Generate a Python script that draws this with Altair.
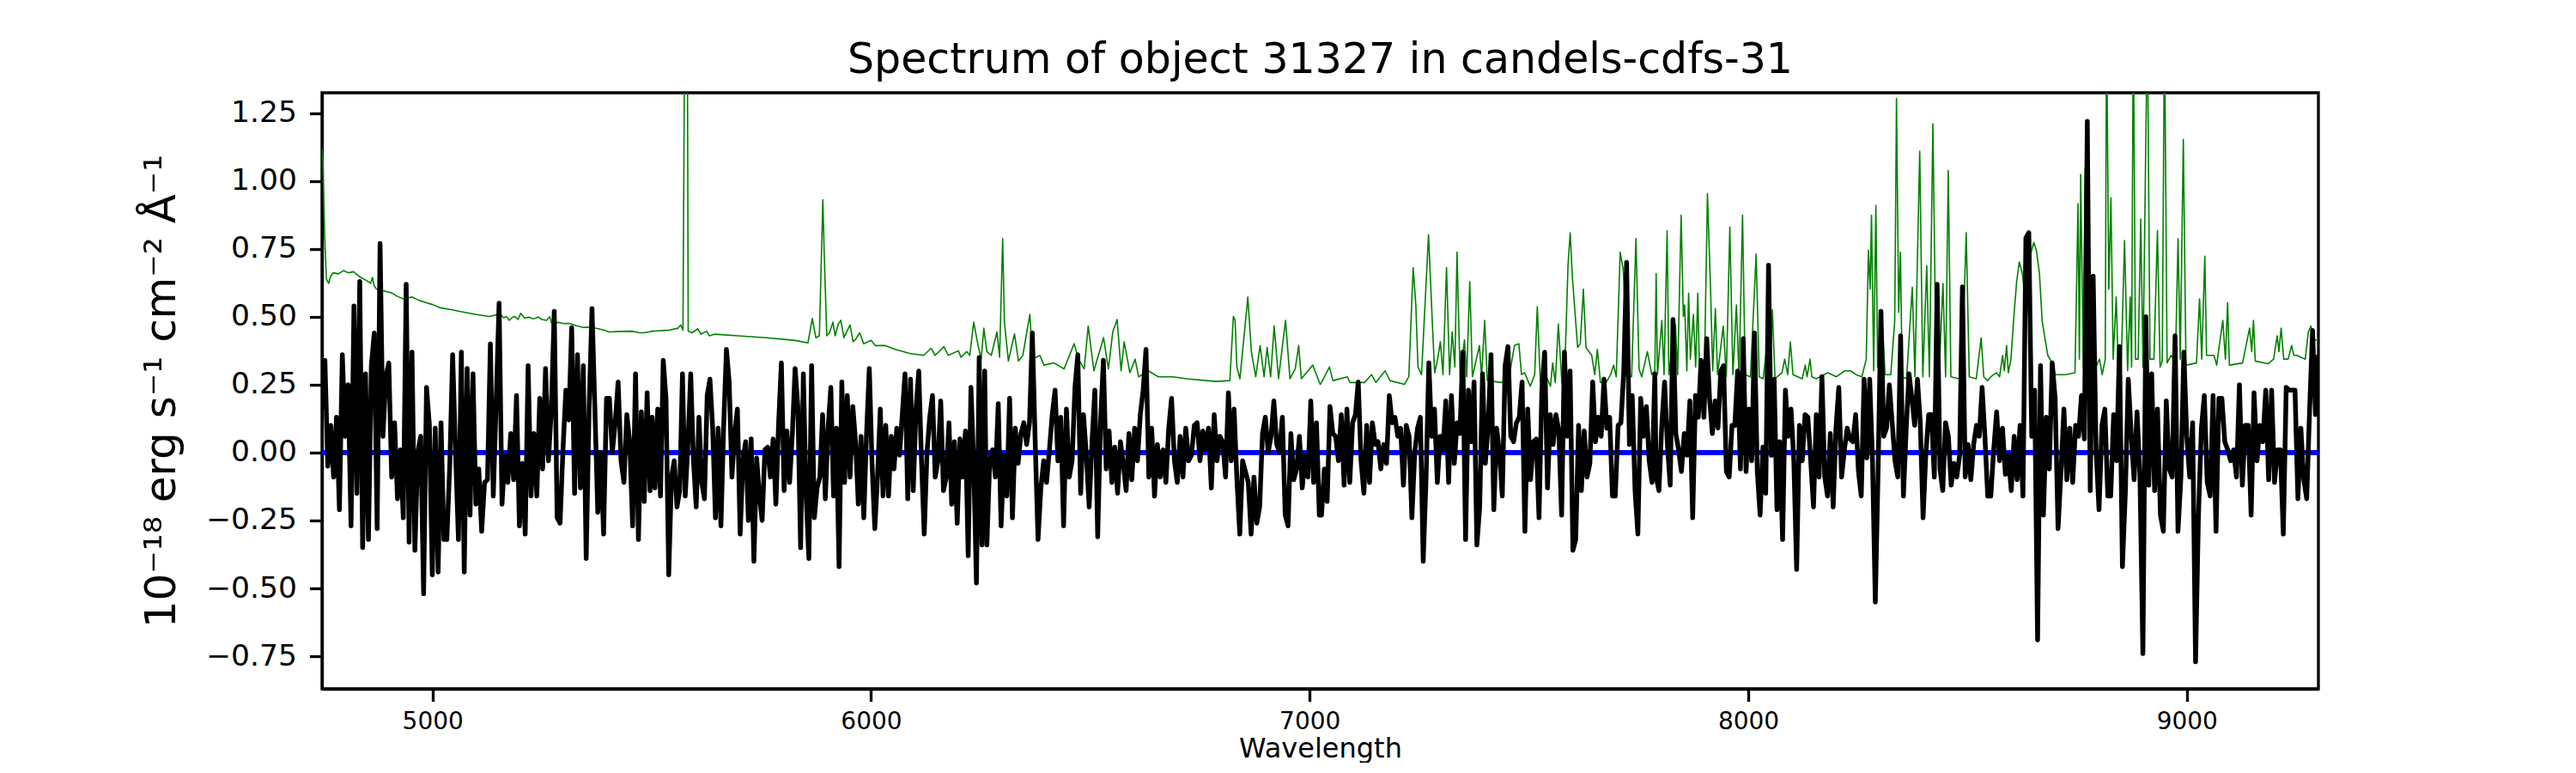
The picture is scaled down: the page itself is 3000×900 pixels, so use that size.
import altair as alt
import numpy as np
import pandas as pd

TITLE = "Spectrum of object 31327 in candels-cdfs-31"
X_TITLE = "Wavelength"
Y_TITLE = "10⁻¹⁸ erg s⁻¹ cm⁻² Å⁻¹"
X_TICKS = [5000, 6000, 7000, 8000, 9000]
Y_TICKS = [-0.75, -0.5, -0.25, 0.0, 0.25, 0.5, 0.75, 1.0, 1.25]
X_DOMAIN = [4748, 9300]
Y_DOMAIN = [-0.87, 1.325]
FONT = "DejaVu Sans"

# wavelength span of each stretch of the black (object) spectrum
seg_ranges = [(4748, 5496), (5501, 6259), (6264, 7022),
              (7027, 7787), (7790, 8546), (8553, 9300)]

flux_1 = [0.16,0.34,-0.05,0.10,-0.09,0.13,-0.21,0.36,0.06,0.25,-0.27,0.54,-0.15,0.63,-0.35,0.29,-0.32,0.32,0.44,-0.28,
          0.77,0.06,0.28,0.33,-0.09,0.11,-0.17,0.01,-0.24,0.62,-0.33,0.37,-0.36,0.00,0.06,-0.52,0.24,0.10,-0.45,0.09,
          -0.44,0.11,-0.32,-0.32,-0.05,0.36,0.00,-0.32,0.37,-0.44,0.31,-0.23,0.29,-0.19,-0.06,-0.29,-0.11,-0.10,0.40,-0.16,
          0.19,0.55,-0.19,-0.01,-0.11,0.07,-0.10,0.21,-0.27,-0.04,-0.30,0.32,-0.16,0.07,-0.16,0.20,-0.06,0.31,-0.03,0.16,
          0.52,-0.24,-0.26,0.01,0.23,0.12,0.46,-0.15,0.36,-0.13,0.32,-0.39,0.16,0.53,0.16,-0.22,0.00,-0.30,0.20,0.20,
          0.00,0.11,0.26,-0.03,-0.11,0.14,0.04,-0.27,0.29,-0.32,0.15,-0.18,0.22,-0.14]
flux_2 = [0.13,-0.13,0.16,-0.16,0.34,0.20,-0.45,-0.09,-0.03,-0.20,-0.14,0.29,-0.16,0.03,0.29,-0.03,-0.20,0.13,-0.11,-0.17,
          0.21,0.27,0.09,-0.24,0.09,-0.27,0.10,0.38,0.26,-0.09,0.07,0.16,-0.30,-0.03,0.04,-0.25,0.05,-0.40,-0.02,-0.16,
          -0.25,0.01,0.02,-0.09,0.05,-0.19,0.11,0.33,-0.14,0.08,-0.11,0.07,0.31,0.17,-0.35,0.29,-0.16,-0.39,0.32,-0.24,
          -0.13,-0.09,0.14,-0.17,0.09,0.24,-0.16,0.09,-0.42,0.26,-0.11,0.21,-0.09,0.17,0.04,-0.19,0.06,-0.24,0.07,0.31,
          -0.04,-0.28,-0.09,0.16,-0.16,0.10,-0.16,0.06,-0.06,0.09,-0.01,0.14,0.29,-0.17,0.27,-0.14,0.16,0.30,-0.03,-0.30,
          0.00,0.13,0.21,-0.09,-0.03,0.19,-0.14,-0.09,0.11,-0.19,0.04,-0.26,0.05,-0.09,0.08,-0.38,0.24,-0.04,-0.48,0.35,
          -0.34,0.30]
flux_3 = [-0.34,-0.03,0.01,-0.09,0.18,-0.27,-0.01,-0.16,0.20,-0.24,0.09,-0.04,0.07,0.11,0.03,0.11,0.44,0.04,-0.32,-0.13,
          -0.03,-0.11,0.01,0.14,0.23,-0.03,0.13,-0.27,0.16,-0.09,-0.03,0.24,0.36,-0.15,0.14,-0.01,-0.20,0.04,0.23,-0.31,
          0.11,0.34,-0.06,0.08,-0.11,0.02,-0.15,0.04,-0.04,-0.14,0.07,-0.10,0.09,-0.03,0.14,0.23,0.38,-0.09,0.09,-0.16,
          0.03,-0.09,0.01,-0.11,0.09,0.20,-0.03,-0.11,0.06,-0.09,0.09,-0.03,-0.01,0.10,0.11,-0.03,0.08,0.01,0.09,-0.13,
          0.14,-0.03,0.06,0.04,-0.09,0.22,-0.03,0.16,-0.10,-0.30,-0.03,-0.07,-0.11,-0.30,-0.09,-0.26,-0.20,0.07,0.13,0.00,
          0.06,0.19,0.03,0.00,0.13,-0.23,-0.27,0.07,-0.10,-0.06,0.06,-0.13,-0.01,-0.09,0.19,-0.11,0.11,-0.23]
flux_4 = [-0.23,-0.06,-0.18,0.17,0.07,0.06,-0.03,0.14,-0.12,0.16,-0.11,0.11,0.14,0.26,-0.03,-0.15,0.10,-0.11,0.11,0.03,
          0.04,-0.06,0.03,-0.04,0.21,0.11,0.13,0.06,0.09,-0.12,0.10,0.06,-0.24,0.00,0.09,0.13,-0.40,-0.10,0.33,0.06,
          0.16,-0.11,0.06,0.01,0.19,-0.11,0.21,-0.04,0.11,0.07,0.37,-0.32,0.23,0.04,0.26,-0.34,-0.20,0.29,-0.04,0.10,
          0.36,-0.21,0.09,0.00,-0.16,0.32,0.39,0.06,0.04,0.11,0.13,0.26,-0.29,0.16,-0.10,0.04,0.05,-0.24,0.23,0.37,
          -0.13,0.14,0.03,0.14,0.08,-0.23,0.37,0.06,0.30,-0.36,-0.32,0.10,-0.14,0.08,-0.09,-0.04,0.26,0.04,0.13,0.06,
          0.27,0.09,0.13,-0.16,-0.16,0.10,0.11,0.30,0.70,0.03,0.21,-0.14,-0.30,0.20,0.06,0.17,-0.03,-0.11,0.29]
flux_5 = [-0.09,-0.14,0.10,0.26,0.03,-0.12,0.49,0.07,0.01,-0.07,0.07,-0.01,0.19,-0.24,0.21,0.13,0.34,0.13,0.42,0.20,
          0.07,0.19,0.09,0.30,0.32,-0.07,-0.09,0.10,0.10,0.30,-0.06,0.42,-0.07,0.16,-0.03,0.44,-0.07,-0.23,0.02,-0.15,
          0.69,-0.01,0.27,-0.21,0.04,-0.32,0.23,0.06,0.16,-0.03,-0.43,0.10,-0.03,0.14,0.13,-0.03,-0.20,0.14,-0.09,0.28,
          -0.09,-0.16,0.07,-0.20,0.09,0.24,-0.09,0.01,0.09,0.05,0.04,0.14,-0.07,-0.16,0.27,-0.02,0.27,-0.03,-0.55,-0.06,
          0.52,0.06,0.09,0.25,0.11,-0.03,-0.09,0.43,-0.16,0.09,0.29,0.20,0.10,0.27,0.11,-0.24,0.00,0.14,0.14,-0.09,
          0.62,-0.06,-0.14,0.11,0.06,-0.12,-0.04,-0.09,-0.01,0.61,-0.09,0.03,-0.10,0.03,0.10,0.06,0.24,0.06,-0.16]
flux_6 = [-0.16,0.01,0.15,-0.03,0.09,-0.08,-0.01,-0.14,0.06,-0.10,0.10,-0.16,0.79,0.81,0.06,0.23,-0.69,0.32,-0.23,0.13,
          -0.06,0.33,0.20,-0.28,-0.07,0.16,-0.10,0.09,-0.11,0.10,0.06,0.21,0.05,1.22,-0.14,0.65,0.01,-0.21,0.10,0.16,
          -0.16,-0.16,0.14,-0.03,0.39,-0.42,-0.15,0.27,0.07,-0.10,0.15,-0.09,-0.74,0.50,-0.12,0.29,-0.14,0.16,-0.23,-0.29,
          0.19,-0.06,-0.09,0.43,-0.29,-0.09,0.37,0.06,-0.09,0.11,-0.77,-0.23,0.09,0.21,-0.11,-0.16,0.21,-0.29,0.20,0.20,
          0.04,0.01,-0.03,0.01,-0.09,0.25,-0.12,0.10,0.10,-0.23,0.22,-0.03,0.10,0.04,0.23,-0.10,0.23,-0.11,0.01,0.01,
          -0.30,0.24,0.23,0.23,0.23,-0.17,0.09,-0.10,-0.17,0.16,0.45,0.14,0.36]

# green (contamination / noise) spectrum as (wavelength, value) pairs
green_1 = [(4748,1.12),(4750,1.08),(4754,0.80),(4758,0.64),(4763,0.623),(4768,0.650),(4774,0.662),(4785,0.658),
           (4797,0.670),(4808,0.662),(4820,0.666),(4828,0.655),(4836,0.645),(4848,0.635),(4859,0.623),(4863,0.645),
           (4867,0.615),(4872,0.602),(4890,0.595),(4908,0.587),(4920,0.575),(4934,0.566),(4953,0.573),(4970,0.560),
           (4986,0.552),(5000,0.545),(5018,0.533),(5040,0.527),(5064,0.519),(5095,0.510),(5129,0.501),(5140,0.505),
           (5155,0.511),(5162,0.496),(5168,0.501),(5175,0.487),(5182,0.498),(5188,0.501),(5195,0.490),(5201,0.513),
           (5210,0.495),(5220,0.499),(5230,0.492),(5240,0.499),(5250,0.490),(5260,0.487),(5267,0.500),(5273,0.470),
           (5286,0.480),(5300,0.475),(5312,0.476),(5330,0.466),(5344,0.461),(5364,0.461),(5380,0.455),(5390,0.451),
           (5403,0.444),(5430,0.446),(5455,0.447),(5470,0.442),(5481,0.441),(5496,0.445)]
green_2 = [(5501,0.447),(5540,0.451),(5560,0.458),(5566,0.470),(5571,0.451),(5575,1.6),(5581,1.6),(5583,0.447),
           (5592,0.441),(5605,0.456),(5612,0.436),(5625,0.447),(5631,0.430),(5644,0.436),(5697,0.430),(5762,0.423),
           (5827,0.413),(5856,0.404),(5866,0.494),(5874,0.423),(5882,0.430),(5890,0.931),(5893,0.738),(5899,0.430),
           (5905,0.441),(5913,0.480),(5918,0.430),(5925,0.473),(5931,0.487),(5938,0.423),(5944,0.444),(5952,0.470),
           (5959,0.408),(5965,0.418),(5974,0.441),(5983,0.401),(6000,0.413),(6010,0.394),(6032,0.394),(6055,0.380),
           (6088,0.365),(6120,0.358),(6137,0.384),(6146,0.358),(6166,0.390),(6176,0.358),(6199,0.375),(6205,0.351),
           (6218,0.372),(6225,0.358),(6234,0.480),(6244,0.394),(6251,0.344),(6257,0.458)]
green_3 = [(6264,0.372),(6274,0.358),(6287,0.444),(6293,0.351),(6300,0.788),(6304,0.480),(6313,0.337),(6319,0.380),
           (6327,0.437),(6336,0.337),(6346,0.358),(6362,0.509),(6368,0.344),(6385,0.358),(6394,0.322),(6417,0.330),
           (6440,0.308),(6463,0.401),(6473,0.344),(6486,0.308),(6495,0.466),(6508,0.301),(6530,0.423),(6541,0.308),
           (6551,0.444),(6561,0.490),(6570,0.301),(6577,0.408),(6590,0.294),(6602,0.344),(6610,0.279),(6632,0.301),
           (6655,0.279),(6688,0.279),(6720,0.272),(6786,0.262),(6818,0.265),(6826,0.501),(6830,0.487),(6834,0.315),
           (6841,0.272),(6859,0.573),(6867,0.372),(6877,0.279),(6887,0.394),(6896,0.279),(6903,0.387),(6911,0.279),
           (6919,0.466),(6929,0.272),(6945,0.487),(6955,0.272),(6967,0.308),(6975,0.394),(6981,0.272),(7007,0.322),
           (7024,0.251)]
green_4 = [(7027,0.258),(7045,0.315),(7053,0.265),(7086,0.279),(7092,0.258),(7125,0.258),(7141,0.287),(7151,0.258),
           (7172,0.301),(7183,0.265),(7216,0.251),(7226,0.279),(7236,0.681),(7242,0.544),(7247,0.315),(7255,0.287),
           (7271,0.802),(7280,0.466),(7285,0.294),(7291,0.337),(7298,0.408),(7304,0.287),(7312,0.681),(7319,0.287),
           (7325,0.444),(7331,0.315),(7336,0.738),(7343,0.279),(7353,0.415),(7358,0.279),(7365,0.630),(7371,0.279),
           (7387,0.394),(7392,0.279),(7399,0.487),(7405,0.265),(7438,0.258),(7457,0.301),(7467,0.394),(7477,0.401),
           (7483,0.287),(7490,0.294),(7503,0.244),(7513,0.287),(7519,0.537),(7526,0.258),(7536,0.294),(7549,0.244),
           (7554,0.330),(7560,0.258),(7567,0.473),(7575,0.258),(7583,0.372),(7589,0.688),(7594,0.809),(7599,0.645),
           (7611,0.387),(7617,0.401),(7624,0.602),(7630,0.387),(7643,0.358),(7650,0.287),(7656,0.380),(7663,0.258),
           (7676,0.258),(7686,0.287),(7693,0.322),(7699,0.279),(7708,0.738),(7715,0.673),(7725,0.294),(7734,0.279),
           (7744,0.788),(7751,0.308),(7757,0.279),(7770,0.372),(7780,0.287),(7787,0.300)]
green_5 = [(7790,0.659),(7793,0.287),(7803,0.487),(7808,0.287),(7815,0.817),(7819,0.287),(7834,0.473),(7839,0.287),
           (7847,0.874),(7852,0.501),(7855,0.544),(7860,0.301),(7864,0.587),(7868,0.344),(7875,0.509),(7880,0.315),
           (7885,0.587),(7889,0.287),(7900,0.301),(7907,0.953),(7914,0.602),(7919,0.301),(7925,0.530),(7930,0.287),
           (7943,0.466),(7950,0.279),(7958,0.831),(7965,0.287),(7973,0.544),(7979,0.279),(7987,0.874),(7993,0.287),
           (8005,0.279),(8018,0.731),(8025,0.279),(8034,0.272),(8044,0.415),(8049,0.279),(8055,0.526),(8061,0.272),
           (8077,0.294),(8083,0.344),(8090,0.287),(8096,0.408),(8102,0.287),(8123,0.272),(8130,0.322),(8134,0.279),
           (8141,0.344),(8145,0.279),(8155,0.272),(8181,0.294),(8191,0.287),(8201,0.279),(8220,0.301),(8233,0.301),
           (8246,0.287),(8259,0.279),(8269,0.344),(8274,0.745),(8278,0.602),(8281,0.874),(8286,0.301),(8291,0.910),
           (8295,0.315),(8305,0.494),(8312,0.287),(8325,0.287),(8334,0.487),(8338,1.304),(8343,0.516),(8347,0.738),
           (8351,0.279),(8361,0.272),(8374,0.609),(8380,0.279),(8391,1.110),(8398,0.279),(8407,0.688),(8413,0.279),
           (8421,1.211),(8428,0.344),(8435,0.287),(8444,0.623),(8450,0.279),(8456,1.039),(8462,0.279),(8481,0.272),
           (8488,0.344),(8497,0.809),(8504,0.279),(8520,0.272),(8531,0.423),(8537,0.279),(8546,0.265)]
green_6 = [(8553,0.279),(8566,0.294),(8573,0.279),(8580,0.358),(8584,0.301),(8589,0.394),(8593,0.294),(8599,0.344),
           (8605,0.487),(8612,0.630),(8618,0.702),(8625,0.659),(8635,0.516),(8644,0.731),(8651,0.774),(8657,0.745),
           (8664,0.659),(8670,0.487),(8677,0.415),(8683,0.358),(8693,0.330),(8700,0.287),(8723,0.287),(8745,0.294),
           (8752,0.917),(8755,0.344),(8758,1.024),(8764,0.315),(8768,1.046),(8773,0.344),(8781,0.645),(8786,0.294),
           (8801,0.344),(8807,0.287),(8814,0.344),(8817,1.6),(8822,0.602),(8827,0.938),(8832,0.344),(8839,0.573),
           (8843,0.344),(8850,0.301),(8858,0.781),(8865,0.301),(8871,0.573),(8874,0.315),(8878,1.6),(8883,0.344),
           (8889,0.344),(8895,0.860),(8900,0.315),(8910,1.6),(8916,0.344),(8925,0.344),(8933,0.817),(8939,0.315),
           (8944,0.337),(8949,1.6),(8955,0.330),(8964,0.358),(8974,0.337),(8980,0.788),(8985,0.344),(8992,1.153),
           (8998,0.322),(9022,0.330),(9029,0.566),(9034,0.344),(9041,0.723),(9045,0.358),(9062,0.358),(9068,0.322),
           (9082,0.487),(9088,0.344),(9093,0.552),(9097,0.322),(9127,0.330),(9143,0.458),(9148,0.372),(9152,0.487),
           (9156,0.337),(9185,0.327),(9198,0.344),(9206,0.430),(9210,0.372),(9215,0.458),(9221,0.344),(9231,0.344),
           (9239,0.394),(9244,0.358),(9251,0.358),(9270,0.344),(9277,0.444),(9283,0.466),(9290,0.415),(9300,0.415)]

# ---- tables ----
wl_parts, fx_parts = [], []
for (a, b), fl in zip(seg_ranges, [flux_1, flux_2, flux_3, flux_4, flux_5, flux_6]):
    wl_parts.append(np.linspace(a, b, len(fl)))
    fx_parts.append(np.array(fl))
black_df = pd.DataFrame({"wavelength": np.concatenate(wl_parts), "flux": np.concatenate(fx_parts)})
green_df = pd.DataFrame(green_1 + green_2 + green_3 + green_4 + green_5 + green_6,
                        columns=["wavelength", "flux"])
zero_df = pd.DataFrame({"flux": [0.0]})

x_scale = alt.Scale(domain=X_DOMAIN, nice=False, zero=False)
y_scale = alt.Scale(domain=Y_DOMAIN, nice=False, zero=False)

x_axis = alt.Axis(values=X_TICKS, format="d", title=X_TITLE, labelFontSize=28, labelPadding=10,
                  titleFontSize=32, titleY=79, titleBaseline="alphabetic", labelFlush=False)
y_axis = alt.Axis(values=Y_TICKS, labelExpr="replace(format(datum.value, '.2f'), '-', '\u2212')",
                  title=Y_TITLE, labelFontSize=34.5, labelPadding=15, titleFontSize=50,
                  titleX=-172, titleY=347, titleAngle=270, titleAlign="center",
                  titleBaseline="alphabetic", labelFlush=False)

X = alt.X("wavelength:Q", scale=x_scale, axis=x_axis)
Y = alt.Y("flux:Q", scale=y_scale, axis=y_axis)

zero = alt.Chart(zero_df).mark_rule(color="#0000ff", strokeWidth=6).encode(y=Y)
green = alt.Chart(green_df).mark_line(color="#008000", strokeWidth=1.6, clip=True,
                                      strokeJoin="round").encode(x=X, y=Y)
black = alt.Chart(black_df).mark_line(color="#000000", strokeWidth=5.5, clip=True,
                                      strokeJoin="round").encode(x=X, y=Y)

chart = alt.layer(zero, green, black).properties(
    width=2325, height=694,
    title=alt.TitleParams(TITLE, fontSize=49, font=FONT, fontWeight="normal", color="black",
                          anchor="middle", offset=24, baseline="alphabetic", dy=50),
    padding={"left": 367, "top": 100, "right": 20, "bottom": 86},
    autosize=alt.AutoSizeParams(type="none"),
).configure_view(
    stroke="black", strokeWidth=3.3
).configure_axis(
    grid=False, domainColor="black", domainWidth=3.3, tickColor="black", tickWidth=3.3,
    tickSize=14.6, labelColor="black", labelFont=FONT, titleFont=FONT,
    titleFontWeight="normal", titleColor="black"
)

chart.save("out.html", embed_options={"renderer": "svg", "actions": False})
